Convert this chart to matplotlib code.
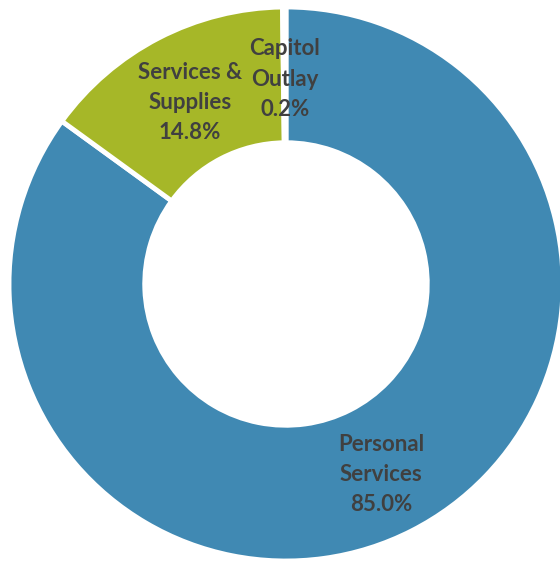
import matplotlib.pyplot as plt
import numpy as np

# data
labels = ["Personal\nServices", "Services &\nSupplies", "Capitol\nOutlay"]
shares = [85.0, 14.8, 0.2]
colors = ["#4089B3", "#A6B728", "#FFFFFF"]

fig = plt.figure(figsize=(5.6, 5.64), dpi=100)
ax = fig.add_axes([0, 0, 1, 1])

# ring geometry (in pixels of the 560x564 canvas)
cx, cy, r = 286, 284, 277
hole = 0.51

wedges, _ = ax.pie(shares, colors=colors, startangle=90, counterclock=False,
                   radius=1, wedgeprops=dict(width=1 - hole, edgecolor="white", linewidth=3.5))

# labels sit in the middle of the ring, like excel does it
rmid = (1 + hole) / 2
for w, lab, val in zip(wedges, labels, shares):
    ang = np.deg2rad((w.theta1 + w.theta2) / 2)
    ax.text(rmid * np.cos(ang), rmid * np.sin(ang) - 0.015, "%s\n%.1f%%" % (lab, val),
            ha="center", va="center", fontsize=16, fontweight="bold",
            family=["Lato", "DejaVu Sans"], color="#404040", linespacing=1.55)

ax.set_xlim(-cx / r, (560 - cx) / r)
ax.set_ylim(-(564 - cy) / r, cy / r)
ax.set_aspect("auto")
ax.axis("off")

fig.savefig("out.png", dpi=100)
